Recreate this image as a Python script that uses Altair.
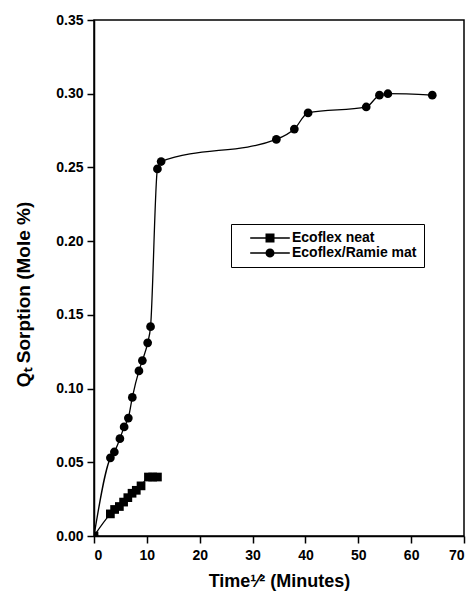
import altair as alt
import pandas as pd

# ---- data ----
series_names = ["Ecoflex neat", "Ecoflex/Ramie mat"]

neat_x = [0, 3.1, 3.9, 4.8, 5.6, 6.4, 7.2, 8.0, 8.9, 10.3, 11.1, 12.0]
neat_y = [0, 0.015, 0.018, 0.020, 0.023, 0.026, 0.029, 0.031, 0.034, 0.040, 0.040, 0.040]

ramie_x = [0, 3.1, 3.85, 4.9, 5.7, 6.5, 7.25, 8.5, 9.15, 10.15, 10.7, 12.0, 12.7,
           34.5, 37.9, 40.5, 51.5, 54.0, 55.6, 64.0]
ramie_y = [0, 0.053, 0.057, 0.066, 0.074, 0.080, 0.094, 0.112, 0.119, 0.131, 0.142,
           0.249, 0.254, 0.269, 0.276, 0.287, 0.291, 0.299, 0.300, 0.299]

x_ticks = [0, 10, 20, 30, 40, 50, 60, 70]
y_ticks = [0.00, 0.05, 0.10, 0.15, 0.20, 0.25, 0.30, 0.35]

df = pd.concat([
    pd.DataFrame({"t": neat_x, "q": neat_y, "series": series_names[0]}),
    pd.DataFrame({"t": ramie_x, "q": ramie_y, "series": series_names[1]}),
], ignore_index=True)

FONT = "Liberation Sans"

X = alt.X("t:Q", scale=alt.Scale(domain=[0, 70], nice=False, zero=False),
          axis=alt.Axis(values=x_ticks, title="Time¹⁄² (Minutes)", grid=False,
                        format="d", tickSize=7, labelPadding=5, titlePadding=10))
Y = alt.Y("q:Q", scale=alt.Scale(domain=[0, 0.35], nice=False, zero=False),
          axis=alt.Axis(values=y_ticks, title="Qₜ Sorption (Mole %)", grid=False,
                        format=".2f", tickSize=7, labelPadding=4, titlePadding=22,
                        titleY=274, titleFontSize=19))

line = alt.Chart(df).mark_line(
    interpolate="monotone", color="black", strokeWidth=1.3, clip=True
).encode(x=X, y=Y, detail="series:N")

pts = alt.Chart(df).mark_point(
    filled=True, color="black", size=76, opacity=1, clip=True
).encode(
    x=X, y=Y,
    shape=alt.Shape("series:N",
                    scale=alt.Scale(domain=series_names, range=["square", "circle"]),
                    legend=None),
)

sq_path = "M-4.4,-0.15H4.4V0.15H-4.4ZM-1,-1H1V1H-1Z"
ci_path = "M-4.4,-0.15H4.4V0.15H-4.4ZM1,0A1,1,0,1,1,-1,0A1,1,0,1,1,1,0Z"

leg = alt.Chart(df).transform_filter("false").mark_point(
    filled=True, color="black", opacity=1
).encode(
    x=X, y=Y,
    shape=alt.Shape("series:N",
                    scale=alt.Scale(domain=series_names, range=[sq_path, ci_path]),
                    legend=alt.Legend(
                        title=None, orient="none", legendX=137, legendY=204,
                        strokeColor="black", padding=7,
                        labelFont=FONT, labelFontSize=14, labelFontWeight="bold",
                        labelColor="black", labelLimit=400,
                        symbolSize=81, symbolFillColor="black",
                        symbolStrokeColor="black", symbolStrokeWidth=0,
                        symbolOffset=25, labelOffset=15, rowPadding=1,
                    )),
)

chart = alt.layer(line, pts, leg).resolve_scale(shape="independent").resolve_legend(
    shape="independent"
).properties(
    width=370, height=516,
    background="white",
    autosize=alt.AutoSizeParams(type="none"),
    padding={"left": 94, "top": 20, "right": 11, "bottom": 63},
).configure_view(
    stroke="black", strokeWidth=1.5
).configure_axis(
    labelFont=FONT, labelFontSize=14, labelFontWeight="bold", labelColor="black",
    titleFont=FONT, titleFontSize=18, titleFontWeight="bold", titleColor="black",
    domainColor="black", domainWidth=1.5, tickColor="black", tickWidth=1.5,
)

chart.save("out.html", embed_options={"renderer": "svg", "actions": False})
